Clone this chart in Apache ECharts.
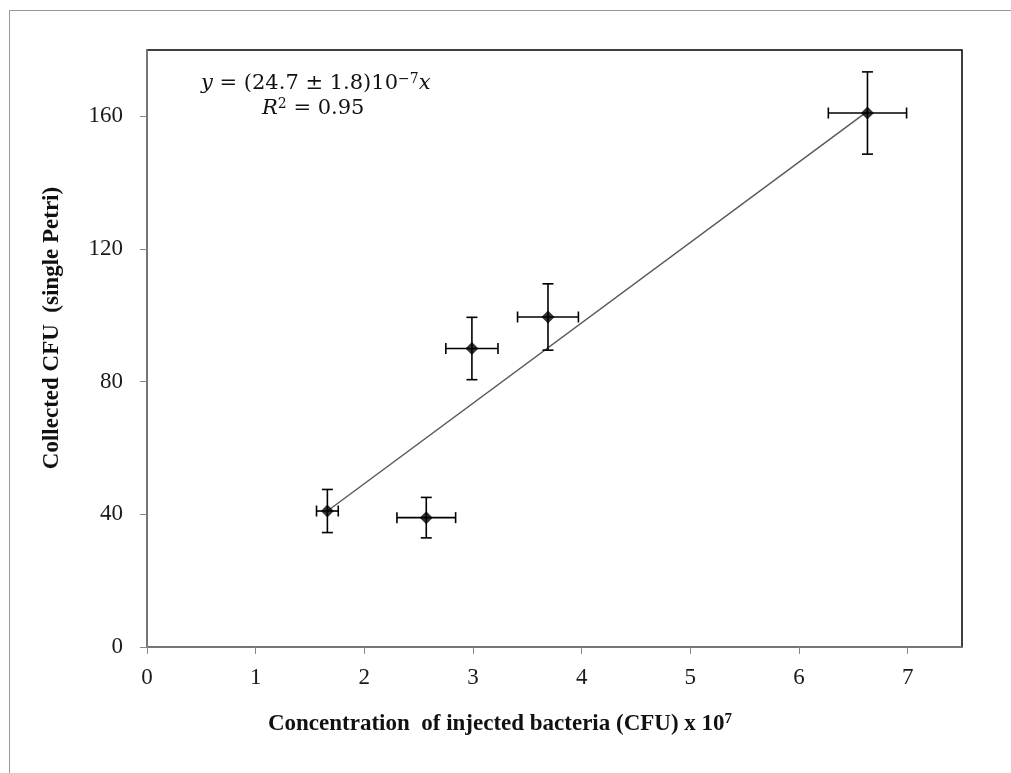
<!DOCTYPE html>
<html>
<head>
<meta charset="utf-8">
<script src="https://cdn.jsdelivr.net/npm/echarts@6/dist/echarts.min.js"></script>
<style>
html,body{margin:0;padding:0;background:#fff;}
#frame{position:absolute;left:9px;top:10px;width:1020px;height:780px;border-left:1px solid #999;border-top:1px solid #999;box-sizing:border-box;}
#chart{position:absolute;left:0;top:0;width:1011px;height:773px;}
</style>
</head>
<body>
<div id="frame"></div>
<div id="chart"></div>
<script>
// Data
const concentration = [1.66, 2.57, 2.99, 3.69, 6.63];   // x 10^7 CFU
const collectedCFU  = [41, 39, 90, 99.5, 161];
const concErr       = [0.1, 0.27, 0.24, 0.28, 0.36];
const cfuErr        = [6.5, 6.1, 9.4, 10, 12.4];
const trendLine     = [[1.66, 41], [6.63, 161.5]];
const xTicks = [0, 1, 2, 3, 4, 5, 6, 7];
const yTicks = [0, 40, 80, 120, 160];

const points = concentration.map((x, i) => [x, collectedCFU[i], concErr[i], cfuErr[i]]);

const chart = echarts.init(document.getElementById('chart'), null, {renderer: 'canvas'});
const serif = '"Liberation Serif","Times New Roman",serif';
const math = '"DejaVu Serif",serif';

chart.setOption({
  backgroundColor: 'transparent',
  animation: false,
  grid: {left: 147, right: 49, top: 50, bottom: 126, show: true, borderColor: '#000', borderWidth: 1.5, backgroundColor: '#fff'},
  xAxis: {
    type: 'value', min: 0, max: 7.5, interval: 1,
    splitLine: {show: false},
    axisLine: {lineStyle: {color: '#888', width: 1.5}},
    axisTick: {show: true, length: 7, lineStyle: {color: '#888'}},
    axisLabel: {showMaxLabel: false, color: '#1a1a1a', fontFamily: serif, fontSize: 23, margin: 19,
      formatter: v => xTicks.indexOf(v) >= 0 ? String(v) : ''}
  },
  yAxis: {
    type: 'value', min: 0, max: 180, interval: 40,
    splitLine: {show: false},
    axisLine: {lineStyle: {color: '#888', width: 1.5}},
    axisTick: {show: true, length: 7, lineStyle: {color: '#888'}},
    axisLabel: {showMaxLabel: false, color: '#1a1a1a', fontFamily: serif, fontSize: 23, margin: 24,
      formatter: v => yTicks.indexOf(v) >= 0 ? String(v) : ''}
  },
  graphic: [{
    type: 'text', left: 201, top: 71, z: 100,
    style: {
      text: '{i|y} = (24.7 ± 1.8)10{s|−7}{i|x}',
      rich: {
        i: {fontFamily: math, fontStyle: 'italic', fontSize: 21, fill: '#111', lineHeight: 25},
        s: {fontFamily: math, fontSize: 14, fill: '#111', lineHeight: 25, padding: [0,0,9,0]},
      },
      fontFamily: math, fontSize: 21, fill: '#111', lineHeight: 25
    }
  }, {
    type: 'text', left: 262, top: 96, z: 100,
    style: {
      text: '{i|R}{s|2} = 0.95',
      rich: {
        i: {fontFamily: math, fontStyle: 'italic', fontSize: 21, fill: '#111', lineHeight: 25},
        s: {fontFamily: math, fontSize: 14, fill: '#111', lineHeight: 25, padding: [0,0,9,0]},
      },
      fontFamily: math, fontSize: 21, fill: '#111', lineHeight: 25
    }
  }, {
    type: 'text', x: 500, y: 724, z: 100,
    style: {
      text: '{t|Concentration  of injected bacteria (CFU) x 10}{s|7}',
      align: 'center', verticalAlign: 'middle',
      rich: {
        t: {fontFamily: serif, fontWeight: 'bold', fontSize: 23, fill: '#111', lineHeight: 28},
        s: {fontFamily: serif, fontWeight: 'bold', fontSize: 15, fill: '#111', lineHeight: 28, padding: [0,0,10,0]}
      }
    }
  }, {
    type: 'text', x: 52, y: 328, rotation: Math.PI / 2, z: 100,
    style: {
      text: 'Collected CFU  (single Petri)',
      align: 'center', verticalAlign: 'middle',
      fontFamily: serif, fontWeight: 'bold', fontSize: 23, fill: '#111'
    }
  }],
  series: [{
    type: 'line', data: trendLine, symbol: 'none',
    lineStyle: {color: '#5a5a5a', width: 1.5}, z: 2
  }, {
    type: 'custom', z: 3,
    data: points,
    renderItem: (params, api) => {
      const x = api.value(0), y = api.value(1), ex = api.value(2), ey = api.value(3);
      const l = api.coord([x - ex, y]), r = api.coord([x + ex, y]);
      const t = api.coord([x, y + ey]), b = api.coord([x, y - ey]);
      const cap = 5.5;
      const st = {stroke: '#000', lineWidth: 1.6};
      return {type: 'group', children: [
        {type: 'line', shape: {x1: l[0], y1: l[1], x2: r[0], y2: r[1]}, style: st},
        {type: 'line', shape: {x1: l[0], y1: l[1]-cap, x2: l[0], y2: l[1]+cap}, style: st},
        {type: 'line', shape: {x1: r[0], y1: r[1]-cap, x2: r[0], y2: r[1]+cap}, style: st},
        {type: 'line', shape: {x1: t[0], y1: t[1], x2: b[0], y2: b[1]}, style: st},
        {type: 'line', shape: {x1: t[0]-cap, y1: t[1], x2: t[0]+cap, y2: t[1]}, style: st},
        {type: 'line', shape: {x1: b[0]-cap, y1: b[1], x2: b[0]+cap, y2: b[1]}, style: st}
      ]};
    }
  }, {
    type: 'scatter', data: points.map(p => [p[0], p[1]]),
    symbol: 'diamond', symbolSize: 13, itemStyle: {color: '#000'}, z: 4
  }]
});
</script>
</body>
</html>
